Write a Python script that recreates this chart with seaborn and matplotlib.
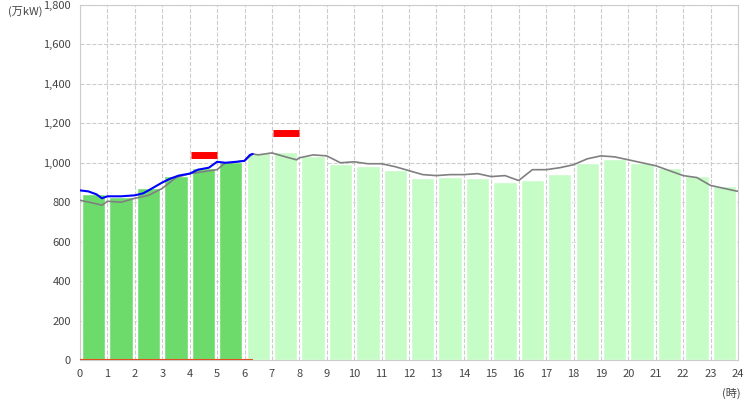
import matplotlib
matplotlib.use("Agg")
import matplotlib.pyplot as plt
import seaborn as sns
import pandas as pd

hours = list(range(24))
demand = [842, 825, 870, 935, 975, 1005, 1050, 1055, 1035, 995, 985, 965,
          925, 930, 925, 905, 915, 945, 1000, 1020, 1000, 975, 935, 880]
actual_done = 6  # hours 0-5 are results

gray_t = [0, 0.5, 0.8, 1, 1.5, 2, 2.5, 3, 3.5, 4, 4.5, 5, 5.3, 5.5, 6, 6.3, 6.5, 7, 7.5, 7.9,
          8, 8.5, 9, 9.5, 10, 10.5, 11, 11.5, 12, 12.5, 13, 13.5, 14, 14.5, 15, 15.5, 16, 16.5,
          17, 17.5, 18, 18.5, 19, 19.5, 20, 20.5, 21, 21.5, 22, 22.5, 23, 23.5, 24]
gray_v = [810, 795, 785, 805, 800, 820, 835, 870, 925, 945, 955, 965, 1000, 1000, 1010, 1045,
          1040, 1050, 1030, 1015, 1025, 1040, 1035, 1000, 1005, 995, 995, 980, 960, 940, 935,
          940, 940, 945, 930, 935, 910, 965, 965, 975, 990, 1020, 1035, 1030, 1015, 1000, 985,
          960, 935, 925, 885, 870, 855]
blue_t = [0, 0.3, 0.6, 0.8, 1, 1.5, 2, 2.3, 2.5, 3, 3.3, 3.6, 4, 4.3, 4.7, 5, 5.3, 5.7, 6, 6.2, 6.3]
blue_v = [860, 855, 840, 820, 830, 830, 835, 845, 860, 900, 920, 935, 945, 965, 975, 1005,
          1000, 1005, 1010, 1040, 1045]
peak_start = [4, 7]
peak_val = [1040, 1150]

sns.set_style("white")
plt.rcParams['font.family'] = ['Noto Sans CJK JP', 'DejaVu Sans']

fig = plt.figure(figsize=(7.5, 4), dpi=100)
ax = fig.add_axes([80/750, 40/400, 658/750, 355/400])

df = pd.DataFrame({"x": [h + 0.5 for h in hours], "y": demand,
                   "kind": ["done" if h < actual_done else "fc" for h in hours]})
sns.barplot(data=df, x="x", y="y", hue="kind", native_scale=True, dodge=False,
            palette={"done": "#6cdb6c", "fc": "#c6fcc6"}, width=0.85, legend=False,
            saturation=1, ax=ax, zorder=2)
sns.lineplot(x=gray_t, y=gray_v, color="#808080", lw=1.2, ax=ax, zorder=3)
sns.lineplot(x=blue_t, y=blue_v, color="#0000ff", lw=1.5, ax=ax, zorder=4)
for s, v in zip(peak_start, peak_val):
    ax.hlines(v, s + 0.05, s + 1, color="red", lw=5, zorder=5)
ax.hlines(0, 0, 6.3, color="#e05020", lw=1.5, zorder=5)

ax.set_xlim(0, 24)
ax.set_ylim(0, 1800)
ax.set_xticks(range(25))
ax.set_yticks(range(0, 1801, 200))
ax.set_yticklabels([f"{v:,}" for v in range(0, 1801, 200)])
ax.tick_params(labelsize=8, colors="#444444", length=3)
ax.grid(True, ls="--", color="#cccccc", lw=0.8, zorder=0)
ax.set_axisbelow(True)
for sp in ax.spines.values():
    sp.set_color("#cccccc")
ax.set_xlabel("")
ax.set_ylabel("")
fig.text(8/750, 1 - 12/400, "(万kW)", fontsize=8, color="#444444", va="center")
fig.text(722/750, 1 - 393/400, "(時)", fontsize=8, color="#444444", va="center")
fig.savefig("out.png", dpi=100)
